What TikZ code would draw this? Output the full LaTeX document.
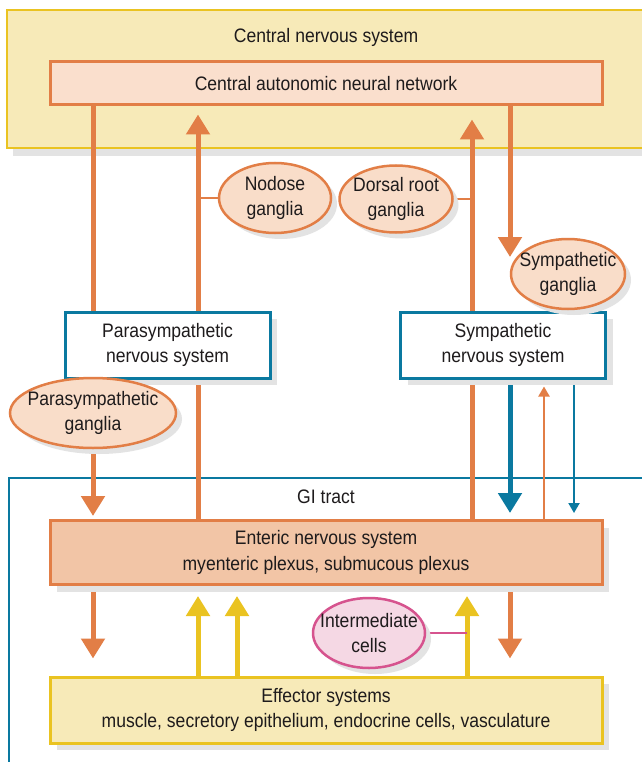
\documentclass[tikz,border=0pt]{standalone}
\usepackage{fontspec}
\setmainfont[FakeStretch=0.9]{Liberation Sans}
\usetikzlibrary{arrows.meta,shapes.geometric,shadows}
\definecolor{orng}{RGB}{226,126,70}
\definecolor{cannfill}{RGB}{250,223,205}
\definecolor{ensfill}{RGB}{242,197,166}
\definecolor{yelfill}{RGB}{247,234,184}
\definecolor{gold}{RGB}{234,195,33}
\definecolor{teal1}{RGB}{10,121,160}
\definecolor{gangfill}{RGB}{249,221,201}
\definecolor{pinkfill}{RGB}{245,216,228}
\definecolor{magenta1}{RGB}{214,83,142}
\definecolor{shad}{RGB}{227,227,227}
\definecolor{txt}{RGB}{30,27,28}
\newcommand{\zw}[1]{\makebox[0pt]{#1}}
\pgfdeclarelayer{back}
\pgfdeclarelayer{mid}
\pgfsetlayers{back,mid,main}
\begin{document}
\begin{tikzpicture}[x=1pt,y=-1pt,
  every node/.style={font=\fontsize{19.5}{25.5}\selectfont, text=txt},
  shadowed/.style={drop shadow={shadow xshift=7pt, shadow yshift=-7pt, fill=shad, opacity=1}},
  wideb/.style={draw=orng, line width=3pt, minimum width=552pt, inner sep=0pt, align=center},
  tealbox/.style={draw=teal1, line width=3pt, fill=white, minimum width=205pt, minimum height=66pt, inner sep=0pt, align=center, shadowed},
  gang/.style={ellipse, draw=orng, line width=2.5pt, fill=gangfill, inner sep=0pt, align=center, drop shadow={shadow xshift=6pt, shadow yshift=-6pt, fill=shad, opacity=1}},
  orline/.style={draw=orng, line width=5pt},
  tealline/.style={draw=teal1, line width=5pt},
  yelline/.style={draw=gold, line width=5pt},
  bigtip/.style={-{Triangle[length=20pt,width=23pt]}},
  smalltip/.style={-{Triangle[length=10pt,width=11pt]}}
]
\clip (0,0) rectangle (641,762);
\begin{pgfonlayer}{back}
  \fill[white] (0,0) rectangle (641,762);
  \path[fill=yelfill, draw=gold, line width=2.5pt, drop shadow={shadow xshift=6pt, shadow yshift=-8pt, fill=shad, opacity=1}] (7,10) rectangle (700,148);
  \draw[teal1, line width=2.5pt] (9,800) -- (9,478) -- (700,478);
\end{pgfonlayer}

\node (cnslabel) at (326,37) {Central nervous system};
\node[wideb, fill=cannfill, minimum height=43pt] (cann) at (326,83.5) {Central autonomic neural network};
\node (gilabel) at (326,497) {GI tract};

\node[tealbox] (pns) at (167.5,345) {Parasympathetic\\nervous system};
\node[tealbox] (sns) at (503,345) {Sympathetic\\nervous system};

\node[gang, minimum width=112pt, minimum height=70pt] (nod) at (275,198) {\zw{Nodose}\\\zw{ganglia}};
\node[gang, minimum width=113pt, minimum height=67pt] (drg) at (396,199) {\zw{Dorsal root}\\\zw{ganglia}};
\node[gang, minimum width=114pt, minimum height=70pt] (sg) at (568,274) {\zw{Sympathetic}\\\zw{ganglia}};
\node[gang, minimum width=166pt, minimum height=70pt] (pg) at (93,413) {\zw{Parasympathetic}\\\zw{ganglia}};

\node[wideb, fill=ensfill, minimum height=64pt, shadowed] (ens) at (326,552.5) {Enteric nervous system\\myenteric plexus, submucous plexus};
\node[wideb, draw=gold, fill=yelfill, minimum height=66pt, shadowed] (eff) at (326,710) {Effector systems\\muscle, secretory epithelium, endocrine cells, vasculature};

\node[ellipse, draw=magenta1, line width=2.5pt, fill=pinkfill, inner sep=0pt, align=center, minimum width=112pt, minimum height=70pt, drop shadow={shadow xshift=6pt, shadow yshift=-6pt, fill=shad, opacity=1}] (ic) at (369,633) {\zw{Intermediate}\\\zw{cells}};

\coordinate (xa) at (93,0);
\coordinate (xb) at (198,0);
\coordinate (xc) at (472,0);
\coordinate (xd) at (510,0);
\coordinate (xe) at (544,0);
\coordinate (xf) at (574,0);
\coordinate (xg) at (237,0);
\coordinate (xh) at (467,0);
\coordinate (dtip) at (510,257);

\begin{pgfonlayer}{mid}
  % CNS to parasympathetic
  \draw[orline] (xa |- cann.south) -- (xa |- pns.north);
  % afferent vagal
  \draw[orline, bigtip, shorten >=8pt] (xb |- ens.north) -- (xb |- cann.south);
  \draw[orng, line width=2.5pt] (xb |- nod.west) -- (nod.west);
  % afferent spinal
  \draw[orline, bigtip, shorten >=13pt] (xc |- ens.north) -- (xc |- cann.south);
  \draw[orng, line width=2.5pt] (drg.east) -- (xc |- drg.east);
  % CNS to sympathetic ganglia
  \draw[orline, bigtip] (xd |- cann.south) -- (dtip);
  % parasympathetic ganglia to ENS
  \draw[orline, bigtip, shorten >=3pt] (pg.south) -- (pg.south |- ens.north);
  % sympathetic to ENS
  \draw[tealline, bigtip, shorten >=6pt] (xd |- sns.south) -- (xd |- ens.north);
  \draw[orng, line width=2pt, smalltip, shorten >=7pt] (xe |- ens.north) -- (xe |- sns.south);
  \draw[teal1, line width=2pt, smalltip, shorten >=6pt] (xf |- sns.south) -- (xf |- ens.north);
  % ENS to effectors
  \draw[orline, bigtip, shorten >=17pt] (xa |- ens.south) -- (xa |- eff.north);
  \draw[orline, bigtip, shorten >=17pt] (xd |- ens.south) -- (xd |- eff.north);
  % effectors to ENS
  \draw[yelline, bigtip, shorten >=10pt] (xb |- eff.north) -- (xb |- ens.south);
  \draw[yelline, bigtip, shorten >=10pt] (xg |- eff.north) -- (xg |- ens.south);
  \draw[yelline, bigtip, shorten >=10pt] (xh |- eff.north) -- (xh |- ens.south);
  \draw[magenta1, line width=2.5pt] (ic.east) -- (xh |- ic.east);
\end{pgfonlayer}
\end{tikzpicture}
\end{document}
